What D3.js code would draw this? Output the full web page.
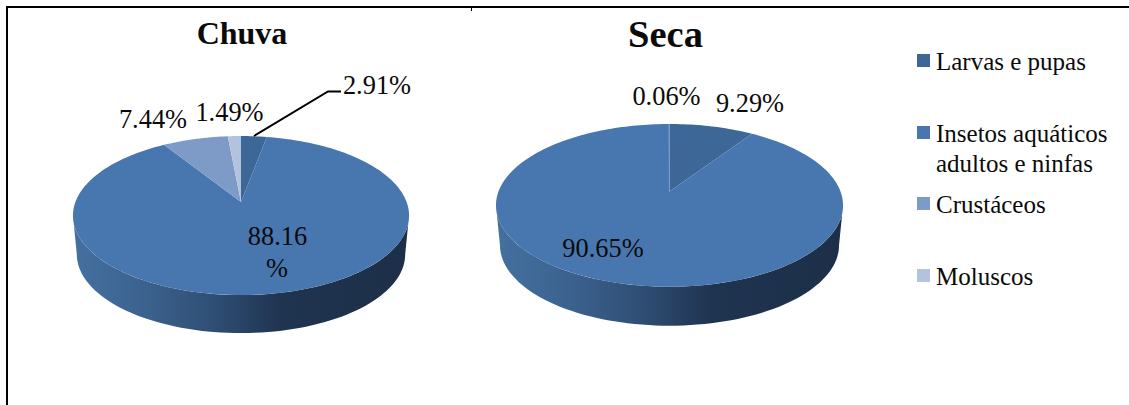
<!DOCTYPE html>
<html><head><meta charset="utf-8">
<style>html,body{margin:0;padding:0;background:#fff}svg{display:block}text{font-family:"Liberation Serif",serif;fill:#0a0a0a}</style>
<script src="https://cdn.jsdelivr.net/npm/d3@7/dist/d3.min.js"></script>
</head><body><svg id="c" width="1129" height="405"></svg>
<script>
const categories = ["Larvas e pupas","Insetos aquáticos adultos e ninfas","Crustáceos","Moluscos"];
const chuvaValues = [2.91,88.16,7.44,1.49];
const secaValues = [9.29,90.65,0.06,0];
const colors = ["#3d6796","#4877b0","#7e9bc8","#b3c3de"];
const svg = d3.select("#c");
const defs = svg.append("defs");
const lg = defs.append("linearGradient").attr("id","side");
[[0,"#44709f"],[0.2,"#3c6390"],[0.42,"#2f4e74"],[0.62,"#1f3450"],[1,"#1d2f48"]].forEach(s=>lg.append("stop").attr("offset",s[0]).attr("stop-color",s[1]));
// frame
svg.append("line").attr("x1",6).attr("x2",1129).attr("y1",7).attr("y2",7).attr("stroke","#000").attr("stroke-width",2);
svg.append("line").attr("x1",7).attr("x2",7).attr("y1",6).attr("y2",405).attr("stroke","#000").attr("stroke-width",2);
svg.append("line").attr("x1",471.5).attr("x2",471.5).attr("y1",7).attr("y2",11).attr("stroke","#000");

function pieChart(values, g){
  const k=g.k, b=g.b, a=g.a;
  const proj=(t)=>{const u=Math.sin(t),v=-Math.cos(t),w=1-k*v;return [g.cx+a*u/w,g.cy+b*v/w];};
  const projB=(t)=>{const u=Math.sin(t),v=-Math.cos(t),w=1-k*v;return [g.cx+g.sa*a*u/w,g.cy+g.dy+g.sb*b*v/w];};
  const line=d3.line();
  // side: front half between extreme right and left points
  const tr=Math.acos(-k), tl=2*Math.PI-tr;
  const n=80, top=d3.range(n+1).map(i=>proj(tr+(tl-tr)*i/n)), bot=d3.range(n+1).map(i=>projB(tl-(tl-tr)*i/n));
  svg.append("path").attr("d",line(top.concat(bot))+"Z").attr("fill","url(#side)");
  const arcs=d3.pie().sort(null).value(d=>d)(values);
  arcs.forEach((d,i)=>{
    if(d.value<=0) return;
    const m=Math.max(1,Math.ceil((d.endAngle-d.startAngle)*40));
    const pts=[[g.cx,g.cy]].concat(d3.range(m+1).map(j=>proj(d.startAngle+(d.endAngle-d.startAngle)*j/m)));
    svg.append("path").attr("d",line(pts)+"Z").attr("fill",colors[i]).attr("stroke",d.value<1?colors[i]:"none").attr("stroke-width",d.value<1?0.8:0);
  });
}
pieChart(chuvaValues,{cx:241,cy:202,a:165.6,b:77.2,k:0.17,sa:0.977,sb:0.99,dy:39});
pieChart(secaValues,{cx:669.5,cy:191.5,a:171,b:79,k:0.17,sa:0.977,sb:0.99,dy:40});

const label=(s,x,y,size,w)=>svg.append("text").attr("x",x).attr("y",y).attr("font-size",size).attr("font-weight",w||400).attr("text-anchor","middle").text(s);
label("Chuva",242,44,32,700);
label("Seca",665.5,47,38.5,700);
const fs=26.4;
label(chuvaValues[0].toFixed(2)+"%",377,94,fs);
label(chuvaValues[3].toFixed(2)+"%",229.5,121,fs);
label(chuvaValues[2].toFixed(2)+"%",153,128,fs);
label(chuvaValues[1].toFixed(2),277.5,245,fs);
label("%",277,277,fs);
label(secaValues[2].toFixed(2)+"%",666.5,105,fs);
label(secaValues[0].toFixed(2)+"%",750,112,fs);
label(secaValues[1].toFixed(2)+"%",603,257,fs);
// leader
svg.append("path").attr("d",d3.line()([[254,136],[328,91.5],[341,91.5]])).attr("fill","none").attr("stroke","#000").attr("stroke-width",2);
// legend
const legendY=[54,126,197,269];
const legendLines=[["Larvas e pupas"],["Insetos aquáticos","adultos e ninfas"],["Crustáceos"],["Moluscos"]];
legendLines.forEach((ls,i)=>{
  svg.append("rect").attr("x",917).attr("y",legendY[i]).attr("width",13).attr("height",13).attr("fill",colors[i]);
  ls.forEach((s,j)=>svg.append("text").attr("x",936).attr("y",legendY[i]+16+j*30).attr("font-size",25).text(s));
});
</script></body></html>
